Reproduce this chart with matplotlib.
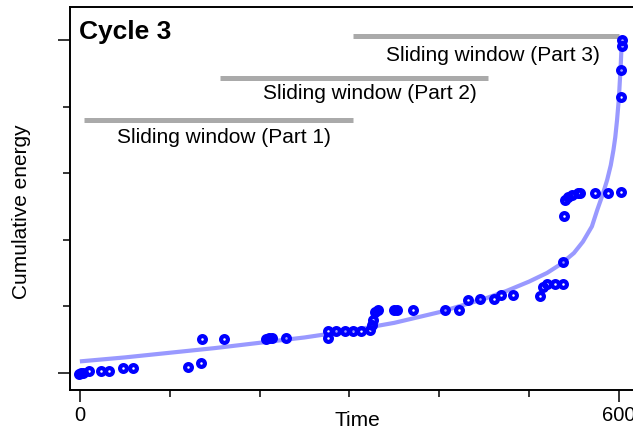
import matplotlib
matplotlib.use("Agg")
import matplotlib.pyplot as plt
from matplotlib.ticker import FixedLocator

plt.rcParams['font.family'] = ['Liberation Sans', 'DejaVu Sans']

# observed cumulative energy (time, value)
event_time = [-1, 1, 3, 10, 24, 32, 48, 59, 120, 135, 136, 160, 207, 210, 214, 229,
              276, 276, 285, 295, 304, 313, 323, 325, 326, 328, 332, 350, 353, 371,
              406, 422, 432, 445, 461, 469, 482, 512, 516, 520, 529, 538, 538, 539,
              540, 543, 548, 555, 557, 573, 588, 602, 602, 602, 603, 603]
event_energy = [-0.015, 0.0, 0.0, 0.03, 0.03, 0.03, 0.075, 0.075, 0.09, 0.15, 0.50, 0.51,
                0.51, 0.525, 0.525, 0.525, 0.525, 0.62, 0.63, 0.63, 0.63, 0.63, 0.645,
                0.72, 0.80, 0.92, 0.95, 0.95, 0.95, 0.95, 0.95, 0.95, 1.10, 1.11, 1.11,
                1.17, 1.17, 1.16, 1.29, 1.34, 1.34, 1.34, 1.67, 2.36, 2.60, 2.64, 2.67,
                2.70, 2.70, 2.70, 2.70, 2.72, 4.14, 4.55, 4.92, 5.00]

# fitted curve
fit_time = [0, 50, 100, 150, 200, 250, 300, 350, 400, 450, 475, 500, 520, 535, 550,
            560, 570, 576, 582, 587, 591, 594, 596, 598, 600, 602, 603.5]
fit_energy = [0.17, 0.23, 0.30, 0.37, 0.45, 0.53, 0.63, 0.75, 0.91, 1.11, 1.23, 1.37,
              1.50, 1.63, 1.80, 1.97, 2.20, 2.45, 2.68, 2.90, 3.12, 3.35, 3.54, 3.80,
              4.12, 4.60, 5.05]

# sliding windows
window_labels = ["Sliding window (Part 1)", "Sliding window (Part 2)", "Sliding window (Part 3)"]
window_start = [5, 156, 304]
window_end = [304, 454, 600]
window_level = [3.80, 4.43, 5.06]
label_time = [160, 323, 460]
label_level = [3.54, 4.20, 4.77]

fig = plt.figure(figsize=(6.33, 4.34), dpi=100)
ax = fig.add_axes([70 / 633, 44 / 434, 574 / 633, 383 / 434])

ax.plot(fit_time, fit_energy, color=(0.6, 0.6, 1.0), lw=3, solid_capstyle='butt',
        solid_joinstyle='round', zorder=2)
ax.plot(event_time, event_energy, 'o', ms=4.9, mew=3.0, mec='#0000ff', mfc='none',
        linestyle='none', zorder=3)

for lab, s, e, lev, tx, ty in zip(window_labels, window_start, window_end, window_level,
                                  label_time, label_level):
    ax.plot([s, e], [lev, lev], color='#aaaaaa', lw=3.6, solid_capstyle='butt', zorder=1)
    ax.text(tx, ty, lab, ha='center', va='center', fontsize=15)

ax.text(9 / 574, (390 - 39) / 383, "Cycle 3", transform=ax.transAxes,
        fontsize=19, fontweight='bold', ha='left', va='baseline')

ax.set_xlim(-11, 628)
ax.set_ylim(-0.26, 5.5)

ax.set_xticks([0, 600])
ax.set_xticklabels(["0", "600"])
ax.xaxis.set_minor_locator(FixedLocator([100, 200, 300, 400, 500]))
ax.set_yticks([0, 5])
ax.set_yticklabels([])
ax.yaxis.set_minor_locator(FixedLocator([1, 2, 3, 4]))

ax.tick_params(which='major', length=8.5, width=1.1, labelsize=14.5, pad=3)
ax.tick_params(which='minor', length=5, width=1.1)
for sp in ax.spines.values():
    sp.set_linewidth(1.4)

fig.text(22 / 633, 1 - 212 / 434, "Cumulative energy", rotation=90,
         ha='center', va='center', fontsize=15)
fig.text(357 / 633, 1 - 421 / 434, "Time", ha='center', va='center', fontsize=15)

fig.savefig("out.png", dpi=100)
